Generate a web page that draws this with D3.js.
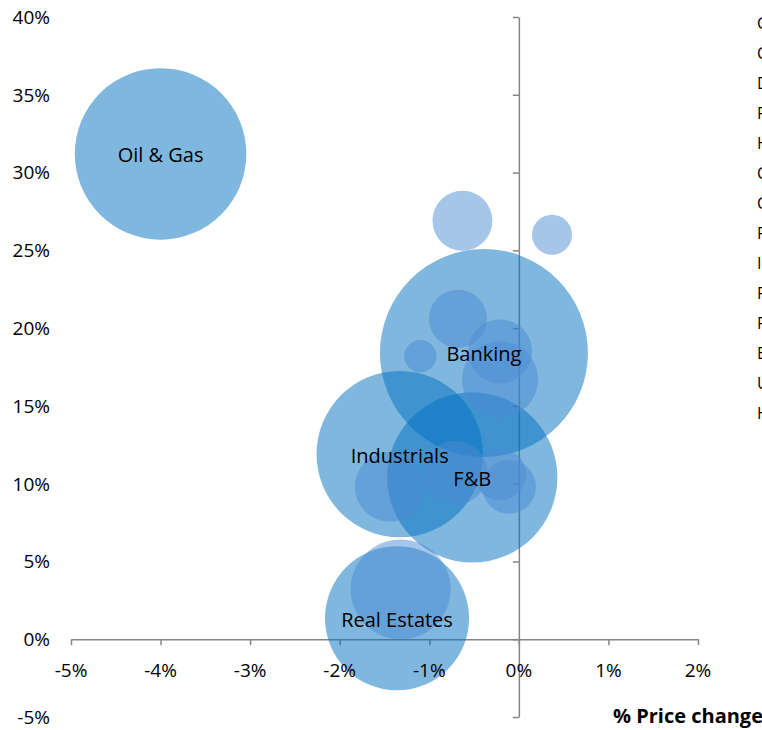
<!DOCTYPE html>
<html>
<head>
<meta charset="utf-8">
<script src="https://cdn.jsdelivr.net/npm/d3@7"></script>
<style>
  body { margin: 0; background: #fff; overflow: hidden; }
  text { font-family: "Open Sans", sans-serif; }
</style>
</head>
<body>
<script>
// sector bubbles (labelled)
const sectors = ["Oil & Gas", "Banking", "Industrials", "F&B", "Real Estates"];
const sectorPrice = [-4.0, -0.39, -1.33, -0.52, -1.36];
const sectorGrowth = [31.2, 18.4, 11.9, 10.4, 1.35];
const sectorSize = [68, 100, 64, 67, 48];

// single-stock bubbles
const stockPrice = [-0.63, 0.37, -0.68, -1.10, -0.21, -0.21, -1.44, -0.71, -0.21, -0.11, -1.32];
const stockGrowth = [26.9, 26.0, 20.6, 18.2, 18.5, 16.7, 9.8, 10.7, 10.6, 9.8, 3.2];
const stockSize = [8.3, 3.7, 7.8, 2.4, 9.5, 13.4, 11.3, 9.5, 6.3, 6.7, 23.1];

// legend entries (cut off by the right edge, as in the source)
const legendNames = ["Chemicals", "Construction", "Distribution", "Fertilizer", "Hotels & Tourism",
  "Construction materials", "Consumer goods", "Fisheries", "Insurance", "Financial services",
  "Forestry", "Electricity", "Utilities", "Healthcare"];

const xTicks = [-5, -4, -3, -2, -1, 0, 1, 2];
const yTicks = [-5, 0, 5, 10, 15, 20, 25, 30, 35, 40];

const width = 762;
const height = 730;

const svg = d3.select("body")
  .append("svg")
  .attr("width", width)
  .attr("height", height);

const x = d3.scaleLinear().domain([-5, 2]).range([71, 698]);
const y = d3.scaleLinear().domain([-5, 40]).range([717, 17]);
const r = d3.scaleSqrt().domain([0, 100]).range([0, 104]);

const axisColor = "#868686";

// axis lines and ticks go under the bubbles
svg.append("g")
  .attr("transform", "translate(0," + y(0) + ")")
  .call(d3.axisBottom(x).tickValues(xTicks).tickSize(6).tickSizeOuter(0).tickFormat(""));

svg.append("g")
  .attr("transform", "translate(" + x(0) + ",0)")
  .call(d3.axisLeft(y).tickValues(yTicks).tickSize(6).tickSizeOuter(0).tickFormat(""));

svg.selectAll(".domain, .tick line")
  .attr("stroke", axisColor)
  .attr("stroke-width", 1.5);

const sectorData = sectors.map((name, i) => ({
  name: name, px: sectorPrice[i], g: sectorGrowth[i], size: sectorSize[i]
}));
const stockData = stockPrice.map((p, i) => ({
  px: p, g: stockGrowth[i], size: stockSize[i]
}));

svg.append("g")
  .selectAll("circle")
  .data(sectorData)
  .enter()
  .append("circle")
  .attr("cx", d => x(d.px))
  .attr("cy", d => y(d.g))
  .attr("r", d => r(d.size))
  .attr("fill", "rgb(0,112,192)")
  .attr("fill-opacity", 0.5);

svg.append("g")
  .selectAll("circle")
  .data(stockData)
  .enter()
  .append("circle")
  .attr("cx", d => x(d.px))
  .attr("cy", d => y(d.g))
  .attr("r", d => r(d.size))
  .attr("fill", "rgb(76,140,212)")
  .attr("fill-opacity", 0.5);

// bubble labels
svg.append("g")
  .selectAll("text")
  .data(sectorData)
  .enter()
  .append("text")
  .attr("x", d => x(d.px))
  .attr("y", d => y(d.g))
  .attr("dy", "0.42em")
  .attr("text-anchor", "middle")
  .attr("font-size", 20)
  .attr("fill", "#000")
  .text(d => d.name);

// tick labels on top
svg.append("g")
  .selectAll("text")
  .data(xTicks)
  .enter()
  .append("text")
  .attr("x", d => x(d))
  .attr("y", 677)
  .attr("text-anchor", "middle")
  .attr("font-size", 19)
  .attr("fill", "#000")
  .text(d => d + "%");

svg.append("g")
  .selectAll("text")
  .data(yTicks)
  .enter()
  .append("text")
  .attr("x", 50)
  .attr("y", d => y(d))
  .attr("dy", "0.36em")
  .attr("text-anchor", "end")
  .attr("font-size", 19)
  .attr("fill", "#000")
  .text(d => d + "%");

svg.append("text")
  .attr("x", 763)
  .attr("y", 723)
  .attr("text-anchor", "end")
  .attr("font-size", 20)
  .attr("font-weight", "bold")
  .attr("fill", "#000")
  .text("% Price change");

// legend
svg.append("g")
  .selectAll("text")
  .data(legendNames)
  .enter()
  .append("text")
  .attr("x", 757)
  .attr("y", (d, i) => 23 + i * 30)
  .attr("dy", "0.35em")
  .attr("font-size", 16)
  .attr("fill", "#000")
  .text(d => d);
</script>
</body>
</html>
